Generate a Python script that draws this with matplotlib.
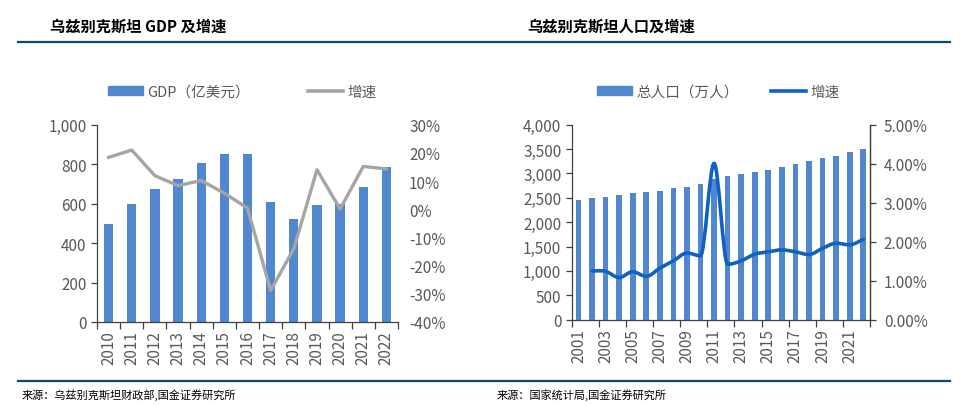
import matplotlib
matplotlib.use("Agg")
import matplotlib.pyplot as plt
import numpy as np
from matplotlib.path import Path
from matplotlib.patches import PathPatch, Patch
from matplotlib.lines import Line2D
from matplotlib.ticker import FuncFormatter, FixedLocator

plt.rcParams['font.family'] = ['Noto Sans CJK SC', 'DejaVu Sans']
plt.rcParams['axes.unicode_minus'] = False

# ── Data ──────────────────────────────────────────────────
gdp_years = [str(y) for y in range(2010, 2023)]
gdp_values = [495, 600, 673, 725, 804, 850, 850, 607, 521, 595, 598, 686, 784]
gdp_growth = [18.4, 21.0, 11.9, 8.4, 10.2, 5.7, 0.4, -28.8, -14.0, 14.0, 0.1, 15.2, 14.3]

pop_years = [str(y) for y in range(2001, 2023)]
pop_values = [2462, 2489, 2516, 2564, 2591, 2619, 2646, 2701, 2728, 2783, 2895,
              2940, 2988, 3022, 3070, 3125, 3200, 3262, 3309, 3364, 3446, 3501]
pop_growth_years = [str(y) for y in range(2002, 2023)]
pop_growth = [1.25, 1.24, 1.08, 1.23, 1.11, 1.32, 1.51, 1.71, 1.64, 4.01,
              1.42, 1.51, 1.68, 1.74, 1.79, 1.74, 1.67, 1.83, 1.96, 1.92, 2.06]

BAR_BLUE = "#5287d0"
GREY_LINE = "#a5a5a5"
LINE_BLUE = "#0f62c2"
RULE = "#0e4b69"
TICK_C = "#595959"
SPINE_C = "#404040"
FS = 10.5

W, H = 967, 406
fig = plt.figure(figsize=(W / 100, H / 100), dpi=100)


def fx(px):
    return px / W


def fy(py):
    return 1 - py / H


def smooth_path(xs, ys, k=1 / 6):
    # bezier through the points; flat tangent at local peaks/dips so the
    # curve doesn't overshoot (close to Excel's smoothed line)
    pts = np.column_stack([xs, ys]).astype(float)
    n = len(pts)
    tang = np.zeros_like(pts)
    for i in range(n):
        a = pts[max(i - 1, 0)]
        b = pts[min(i + 1, n - 1)]
        tang[i] = (b - a) * k
        if 0 < i < n - 1:
            if (pts[i, 1] - a[1]) * (b[1] - pts[i, 1]) <= 0:
                tang[i, 1] = 0
    verts = [pts[0]]
    codes = [Path.MOVETO]
    for i in range(n - 1):
        verts += [pts[i] + tang[i], pts[i + 1] - tang[i + 1], pts[i + 1]]
        codes += [Path.CURVE4] * 3
    return Path(verts, codes)


def style_axes(ax, right_visible):
    ax.spines['top'].set_visible(False)
    for s in ['left', 'bottom', 'right']:
        ax.spines[s].set_color(SPINE_C)
        ax.spines[s].set_linewidth(0.9)
    ax.spines['right'].set_visible(right_visible)
    ax.tick_params(axis='both', colors=SPINE_C, labelcolor=TICK_C,
                   labelsize=FS + 0.5, direction='out', length=4, width=0.9)


# ── Left chart: GDP ───────────────────────────────────────
ax1 = fig.add_axes([fx(97), fy(323), fx(398) - fx(97), fy(125.7) - fy(323)])
x1 = np.arange(len(gdp_years))
ax1.bar(x1, gdp_values, width=0.4, color=BAR_BLUE, zorder=2)
ax1.set_xlim(-0.5, len(gdp_years) - 0.5)
ax1.set_ylim(0, 1000)
ax1.set_yticks(range(0, 1001, 200))
ax1.yaxis.set_major_formatter(FuncFormatter(lambda v, p: f"{v:,.0f}"))
ax1.set_xticks(x1)
ax1.set_xticklabels(gdp_years, rotation=90)
ax1.xaxis.set_minor_locator(FixedLocator(np.arange(-0.5, len(gdp_years), 1.0)))
style_axes(ax1, False)
ax1.tick_params(axis='x', which='major', length=0, pad=6)
ax1.tick_params(axis='x', which='minor', length=5, width=0.9, color=SPINE_C)

ax1b = ax1.twinx()
ax1b.plot(x1, gdp_growth, color=GREY_LINE, lw=2.4, zorder=3,
          solid_joinstyle='round')
ax1b.set_ylim(-40, 30)
ax1b.set_yticks(range(-40, 31, 10))
ax1b.yaxis.set_major_formatter(FuncFormatter(lambda v, p: f"{v:.0f}%"))
style_axes(ax1b, False)
ax1b.spines['left'].set_visible(False)
ax1b.spines['bottom'].set_visible(False)
ax1b.tick_params(axis='y', length=0, pad=8)

fig.legend(handles=[Patch(color=BAR_BLUE, label="GDP（亿美元）"),
                    Line2D([], [], color=GREY_LINE, lw=2.6, label="增速")],
           loc='center', bbox_to_anchor=(fx(242), fy(93)), ncol=2,
           frameon=False, fontsize=FS, labelcolor=TICK_C,
           handlelength=2.4, handleheight=0.55, handletextpad=0.3,
           columnspacing=4.0)

# ── Right chart: population ───────────────────────────────
ax2 = fig.add_axes([fx(571.7), fy(320.7), fx(870) - fx(571.7), fy(125.7) - fy(320.7)])
x2 = np.arange(len(pop_years))
ax2.bar(x2, pop_values, width=0.42, color=BAR_BLUE, zorder=2)
ax2.set_xlim(-0.5, len(pop_years) - 0.5)
ax2.set_ylim(0, 4000)
ax2.set_yticks(range(0, 4001, 500))
ax2.yaxis.set_major_formatter(FuncFormatter(lambda v, p: f"{v:,.0f}"))
ax2.set_xticks(x2[::2])
ax2.set_xticklabels(pop_years[::2], rotation=90)
ax2.xaxis.set_minor_locator(FixedLocator(np.arange(-0.5, len(pop_years), 2.0)))
style_axes(ax2, True)
ax2.tick_params(axis='x', which='major', length=0, pad=6)
ax2.tick_params(axis='x', which='minor', length=5, width=0.9, color=SPINE_C)

ax2b = ax2.twinx()
gx = np.array([pop_years.index(y) for y in pop_growth_years])
ax2b.add_patch(PathPatch(smooth_path(gx, pop_growth), fill=False,
                         edgecolor=LINE_BLUE, lw=2.6, zorder=3,
                         capstyle='round', joinstyle='round'))
ax2b.set_ylim(0, 5)
ax2b.set_yticks(np.arange(0, 5.01, 1))
ax2b.yaxis.set_major_formatter(FuncFormatter(lambda v, p: f"{v:.2f}%"))
style_axes(ax2b, True)
ax2b.spines['left'].set_visible(False)
ax2b.spines['bottom'].set_visible(False)
ax2b.tick_params(axis='y', pad=6)

fig.legend(handles=[Patch(color=BAR_BLUE, label="总人口（万人）"),
                    Line2D([], [], color=LINE_BLUE, lw=2.6, label="增速")],
           loc='center', bbox_to_anchor=(fx(718), fy(93)), ncol=2,
           frameon=False, fontsize=FS, labelcolor=TICK_C,
           handlelength=2.4, handleheight=0.55, handletextpad=0.3,
           columnspacing=2.2)

# ── Titles, rules, sources ────────────────────────────────
fig.text(fx(50), fy(27), "乌兹别克斯坦 GDP 及增速", fontsize=11, fontweight='bold',
         va='center', ha='left', color='black')
fig.text(fx(527), fy(27), "乌兹别克斯坦人口及增速", fontsize=11, fontweight='bold',
         va='center', ha='left', color='black')
fig.add_artist(Line2D([fx(18), fx(950)], [fy(43), fy(43)], color=RULE, lw=1.6))
fig.add_artist(Line2D([fx(18), fx(950)], [fy(382), fy(382)], color=RULE, lw=1.6))
fig.text(fx(22), fy(395), "来源：乌兹别克斯坦财政部,国金证券研究所", fontsize=8,
         va='center', ha='left', color='black')
fig.text(fx(497), fy(395), "来源：国家统计局,国金证券研究所", fontsize=8,
         va='center', ha='left', color='black')

fig.savefig("out.png", dpi=100)
